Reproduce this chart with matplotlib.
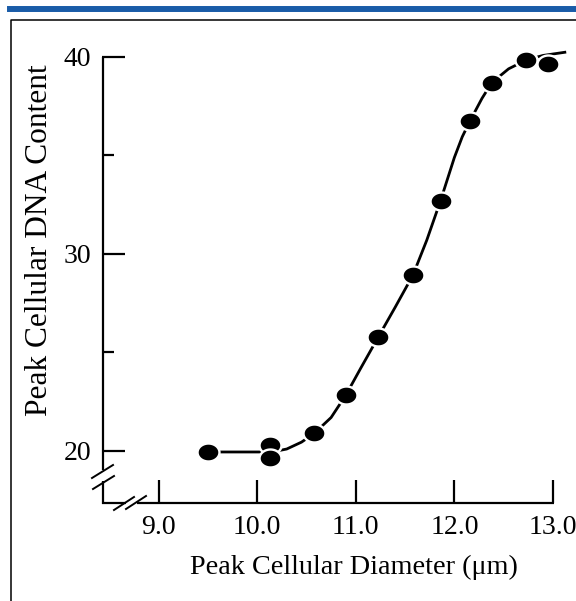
import matplotlib
matplotlib.use("Agg")
import matplotlib.pyplot as plt
from matplotlib.path import Path
from matplotlib.lines import Line2D
import numpy as np

# ---- data ----
diam = [9.50, 10.13, 10.13, 10.58, 10.90, 11.23, 11.58, 11.86, 12.16, 12.38, 12.73, 12.95]
dna = [19.96, 20.30, 19.63, 20.90, 22.84, 25.80, 28.93, 32.71, 36.77, 38.70, 39.85, 39.63]

curve_x = [9.50, 10.15, 10.30, 10.45, 10.58, 10.75, 10.90, 11.05, 11.23, 11.40, 11.58,
           11.72, 11.86, 12.00, 12.08, 12.16, 12.28, 12.38, 12.55, 12.73, 12.90, 13.12]
curve_y = [19.95, 19.95, 20.10, 20.45, 20.90, 21.70, 22.84, 24.20, 25.80, 27.30, 28.93,
           30.70, 32.71, 34.90, 35.95, 36.77, 37.90, 38.70, 39.40, 39.85, 40.08, 40.24]

xticks = [9.0, 10.0, 11.0, 12.0, 13.0]
xticklabels = ["9.0", "10.0", "11.0", "12.0", "13.0"]
yticks = [20, 30, 40]
yminor = [25, 35]

plt.rcParams['font.family'] = ['Liberation Serif', 'DejaVu Serif']

W, H = 576, 601
fig = plt.figure(figsize=(W / 100, H / 100), dpi=100)

# decoration: blue band and frame
fig.add_artist(Line2D([10 / W, 1.0], [1 - 9 / H, 1 - 9 / H], color='#1a5ca8', lw=4.3,
                      transform=fig.transFigure))
fig.add_artist(Line2D([11 / W, 11 / W, 1.0], [0.0, 1 - 20 / H, 1 - 20 / H], color='black',
                      lw=1.1, transform=fig.transFigure))

AL, AR, AT, AB = 102, 553, 57, 503
ax = fig.add_axes([AL / W, 1 - AB / H, (AR - AL) / W, (AB - AT) / H])
ax.set_xlim(8.427, 13.0)
ax.set_ylim(17.36, 40.0)
for s in ax.spines.values():
    s.set_visible(False)


def fx(px):
    return (px - AL) / (AR - AL)


def fy(py):
    return (AB - py) / (AB - AT)


lw_ax = 1.6
# axis lines with breaks
ax.plot([fx(102.5), fx(102.5)], [fy(57), fy(470)], color='black', lw=lw_ax,
        transform=ax.transAxes, clip_on=False, solid_capstyle='butt')
ax.plot([fx(102.5), fx(102.5)], [fy(481), fy(503.8)], color='black', lw=lw_ax,
        transform=ax.transAxes, clip_on=False, solid_capstyle='butt')
ax.plot([fx(101.7), fx(126)], [fy(503), fy(503)], color='black', lw=lw_ax,
        transform=ax.transAxes, clip_on=False, solid_capstyle='butt')
ax.plot([fx(137), fx(553.8)], [fy(503), fy(503)], color='black', lw=lw_ax,
        transform=ax.transAxes, clip_on=False, solid_capstyle='butt')
# break slashes
for (x0, y0, x1, y1) in [(92, 478, 113, 465), (93, 489, 114, 476),
                         (114, 510, 134, 497), (126, 509, 146, 496)]:
    ax.plot([fx(x0), fx(x1)], [fy(y0), fy(y1)], color='black', lw=1.4,
            transform=ax.transAxes, clip_on=False)

# ticks
ax.set_xticks(xticks)
ax.set_xticklabels(xticklabels)
ax.set_yticks(yticks)
ax.set_yticks(yminor, minor=True)
ax.tick_params(axis='both', which='major', direction='in', length=16.5, width=lw_ax,
               labelsize=20)
ax.tick_params(axis='y', which='minor', direction='in', length=8.6, width=lw_ax)
ax.tick_params(axis='x', which='major', pad=8.5)
ax.tick_params(axis='y', which='major', pad=8.0)

# curve
ax.plot(curve_x, curve_y, color='black', lw=2.0, clip_on=False, zorder=3)

# ellipse marker
t = np.linspace(0, 2 * np.pi, 60)
verts = np.column_stack([np.cos(t), 0.82 * np.sin(t)])
ell = Path(verts, closed=True)
ax.plot(diam, dna, linestyle='none', marker=ell, markersize=15.8, markerfacecolor='black',
        markeredgecolor='white', markeredgewidth=1.7, clip_on=False, zorder=4)

fig.text(354 / W, 1 - 567 / H, "Peak Cellular Diameter (μm)", ha='center', va='center',
         fontsize=20.3)
fig.text(40 / W, 1 - 240 / H, "Peak Cellular DNA Content", ha='center', va='center',
         rotation=90, fontsize=22.6)

fig.savefig("out.png", dpi=100)
